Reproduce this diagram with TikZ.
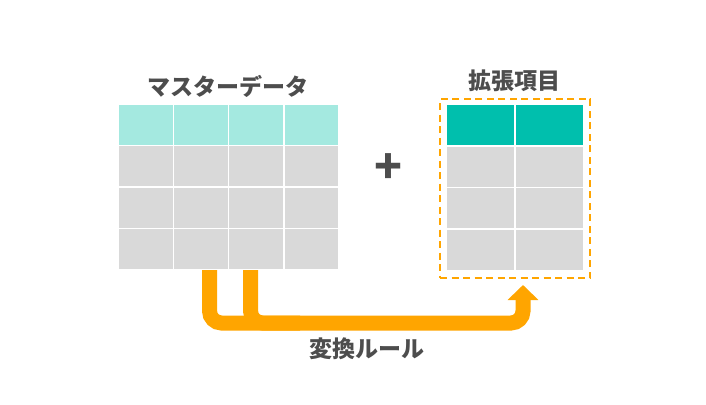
\documentclass[tikz,border=0pt]{standalone}
\usepackage{fontspec}
\newfontfamily\jpfont{Noto Sans CJK JP}
\usetikzlibrary{arrows.meta}

\definecolor{hdrlight}{HTML}{A4E9E0}
\definecolor{hdrdark}{HTML}{00BFAD}
\definecolor{cellgray}{HTML}{D9D9D9}
\definecolor{flowor}{HTML}{FFA500}
\definecolor{txtgray}{HTML}{4D4D4D}

\tikzset{
    cell/.style={draw=white, line width=1.5pt, fill=cellgray, inner sep=0pt,
        minimum width=#1, minimum height=41.5pt},
    title/.style={text=txtgray, font=\jpfont\bfseries\fontsize{23}{27}\selectfont, inner sep=0pt},
    flow/.style={draw=flowor, line width=15pt, rounded corners=12pt},
}

\begin{document}
\begin{tikzpicture}[x=1pt, y=-1pt]
    \useasboundingbox (0,0) rectangle (706,404);

    % Master data table
    \node[title] (mtitle) at (228,86) {マスターデータ};
    \foreach \c in {1,...,4} {
        \node[cell=55.25pt, fill=hdrlight] (m-1-\c) at (118+55.25*\c-27.625, 124.75) {};
        \foreach \r in {2,3,4}
            \node[cell=55.25pt] (m-\r-\c) at (118+55.25*\c-27.625, 104+41.5*\r-20.75) {};
    }

    % Plus sign
    \node[text=txtgray, font=\jpfont\bfseries\fontsize{46}{50}\selectfont, inner sep=0pt] (plus) at (389,169) {+};

    % Extension items table
    \node[title] (etitle) at (514,81) {拡張項目};
    \foreach \c in {1,2} {
        \node[cell=69pt, fill=hdrdark] (e-1-\c) at (446+69*\c-34.5, 125.25) {};
        \foreach \r in {2,3,4}
            \node[cell=69pt] (e-\r-\c) at (446+69*\c-34.5, 104.5+41.5*\r-20.75) {};
    }
    \node[draw=flowor, line width=2.5pt, dash pattern=on 7pt off 4.5pt, inner sep=0pt,
        minimum width=150pt, minimum height=179pt] (extbox) at (515,188.5) {};

    % Conversion rule arrow
    \coordinate (src-a) at (209.5,270);
    \coordinate (src-b) at (250.5,270);
    \coordinate (dst) at (523,285);
    \draw[flow] (src-b) -- (250.5,323) -- (300,323);
    \draw[flow, -{Triangle[width=30pt 0, length=15pt 0]}] (src-a) -- (209.5,323) -- (523,323) -- (dst);
    \node[title] (rule) at (367,349) {変換ルール};
\end{tikzpicture}
\end{document}
